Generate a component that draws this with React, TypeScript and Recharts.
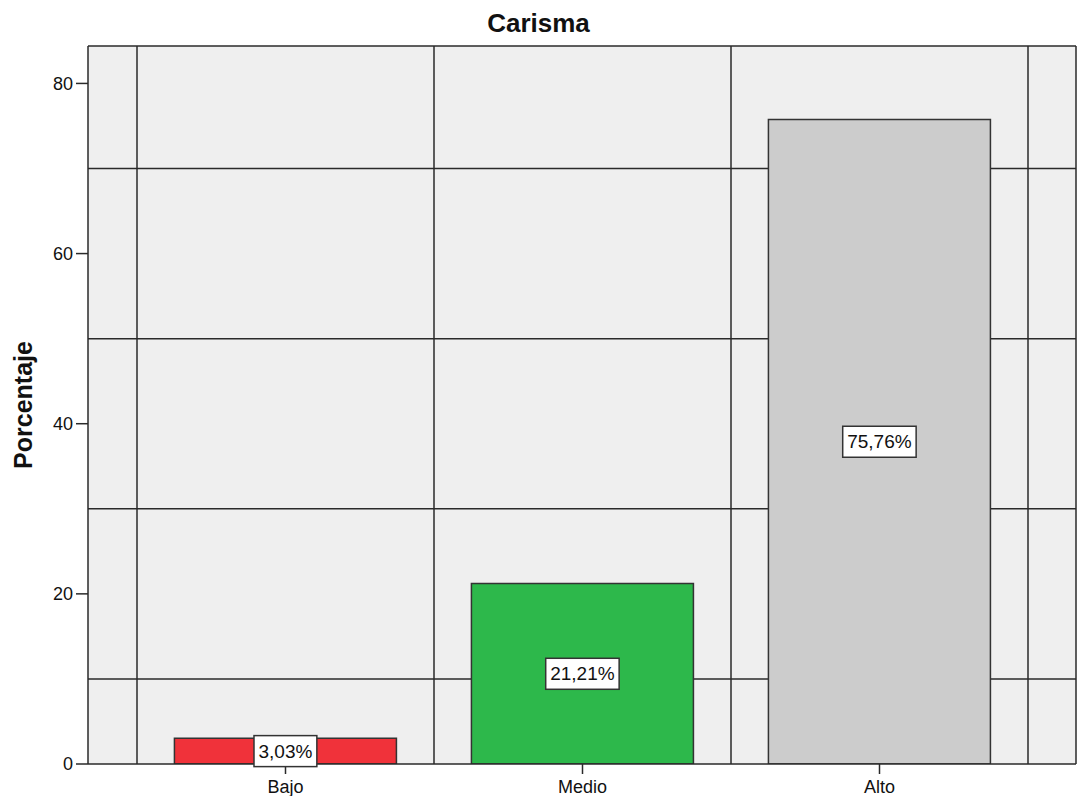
import { Bar, BarChart, CartesianGrid, Cell, LabelList, XAxis, YAxis } from "recharts";

const categories = ["Bajo", "Medio", "Alto"];
const percentages = [3.03, 21.21, 75.76];
const barColors = ["#f0323a", "#2db84b", "#cccccc"];
const yTicks = [0, 20, 40, 60, 80];
const gridValues = [10, 30, 50, 70];
const yMax = 84.4;

const data = categories.map((name, i) => ({ name, value: percentages[i] }));

const FONT = "Arial, 'Liberation Sans', sans-serif";
const LINE = "#2a2a2a";
const PAD_L = 49;
const PAD_R = 48;

const fmt = (v: number) => v.toFixed(2).replace(".", ",") + "%";

function textWidth(s: string, fs: number) {
  let w = 0;
  for (const ch of s) {
    if (ch === ",") w += 0.278;
    else if (ch === "%") w += 0.889;
    else w += 0.556;
  }
  return w * fs;
}

// recharts 3 may hand over a plain d3 scale or a wrapper with map()
function applyScale(scale: any, v: any): number | undefined {
  if (!scale) return undefined;
  if (typeof scale === "function") return scale(v);
  if (typeof scale.map === "function") return scale.map(v);
  if (typeof scale.apply === "function") return scale.apply(v);
  return undefined;
}

function ValueLabel(props: any) {
  const { x, y, width, height, value } = props;
  const fs = 19;
  const s = fmt(Number(value));
  const bw = textWidth(s, fs) + 9;
  const bh = 31;
  const cx = Number(x) + Number(width) / 2;
  const cy = Number(y) + Number(height) / 2;
  return (
    <g>
      <rect x={cx - bw / 2} y={cy - bh / 2} width={bw} height={bh} fill="#fff" stroke="#333" strokeWidth={1.5} />
      <text x={cx} y={cy} textAnchor="middle" dominantBaseline="central" fontSize={fs} fontFamily={FONT} fill="#111">
        {s}
      </text>
    </g>
  );
}

function YTitle(props: any) {
  const vb = props.viewBox || {};
  const y = (vb.y ?? 0) + (vb.height ?? 0) / 2;
  const x = 23;
  return (
    <text
      x={x}
      y={y}
      transform={`rotate(-90, ${x}, ${y})`}
      textAnchor="middle"
      dominantBaseline="central"
      fontSize={25}
      fontWeight="bold"
      fontFamily={FONT}
      fill="#111"
    >
      Porcentaje
    </text>
  );
}

const verticalLines = ({ xAxis, offset }: any) => {
  const right = offset.left + offset.width;
  const scale = xAxis?.scale;
  const first = applyScale(scale, categories[0]);
  let pts: number[];
  if (typeof first === "number" && !isNaN(first)) {
    const bw =
      typeof scale?.bandwidth === "function"
        ? scale.bandwidth()
        : (offset.width - PAD_L - PAD_R) / categories.length;
    pts = categories.map((c) => applyScale(scale, c) as number);
    pts.push(pts[pts.length - 1] + bw);
  } else {
    const bw = (offset.width - PAD_L - PAD_R) / categories.length;
    pts = [0, 1, 2, 3].map((i) => offset.left + PAD_L + i * bw);
  }
  return [...pts, right];
};

const horizontalLines = ({ yAxis, offset }: any) => {
  const scale = yAxis?.scale;
  const probe = applyScale(scale, 0);
  const pts =
    typeof probe === "number" && !isNaN(probe)
      ? gridValues.map((v) => applyScale(scale, v) as number)
      : gridValues.map((v) => offset.top + offset.height * (1 - v / yMax));
  return [...pts, offset.top];
};

export default function App() {
  return (
    <div style={{ position: "absolute", left: 0, top: 0, width: 1077, height: 796, background: "#fff" }}>
      <div
        style={{
          position: "absolute",
          left: 0,
          width: 1077,
          top: 8,
          textAlign: "center",
          fontFamily: FONT,
          fontWeight: "bold",
          fontSize: 26,
          lineHeight: "30px",
          color: "#111",
        }}
      >
        Carisma
      </div>
      <BarChart
        width={1077}
        height={796}
        data={data}
        margin={{ top: 46, right: 1, bottom: 0, left: 0 }}
        barCategoryGap="12.6%"
      >
        <CartesianGrid
          fill="#efefef"
          stroke={LINE}
          strokeWidth={1.5}
          verticalCoordinatesGenerator={verticalLines}
          horizontalCoordinatesGenerator={horizontalLines}
        />
        <XAxis
          dataKey="name"
          height={32}
          padding={{ left: PAD_L, right: PAD_R }}
          axisLine={{ stroke: LINE, strokeWidth: 1.5 }}
          tickLine={{ stroke: LINE, strokeWidth: 1.5 }}
          tickSize={10}
          tickMargin={6}
          tick={{ fill: "#111", fontSize: 18, fontFamily: FONT }}
        />
        <YAxis
          width={88}
          domain={[0, yMax]}
          ticks={yTicks}
          allowDataOverflow
          axisLine={{ stroke: LINE, strokeWidth: 1.5 }}
          tickLine={{ stroke: LINE, strokeWidth: 1.5 }}
          tickSize={12}
          tickMargin={3}
          tick={{ fill: "#111", fontSize: 18, fontFamily: FONT }}
          label={{ content: <YTitle /> } as any}
        />
        <Bar dataKey="value" stroke="#333" strokeWidth={1.5} isAnimationActive={false}>
          {data.map((d, i) => (
            <Cell key={d.name} fill={barColors[i]} />
          ))}
          <LabelList dataKey="value" content={<ValueLabel />} />
        </Bar>
      </BarChart>
    </div>
  );
}
